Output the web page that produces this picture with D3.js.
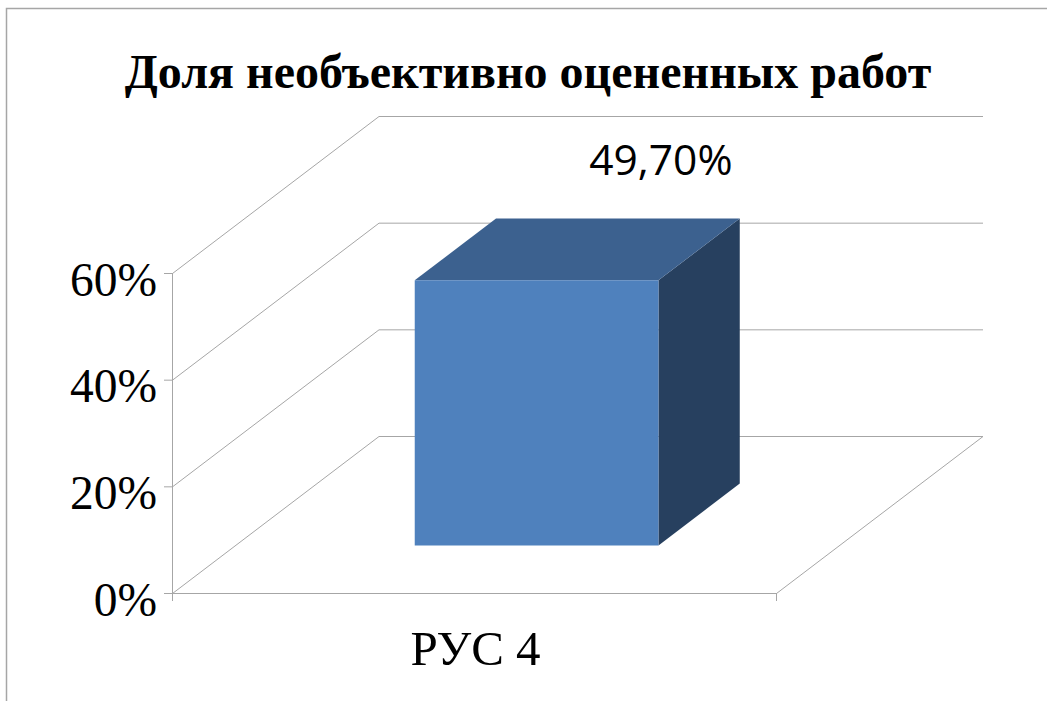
<!DOCTYPE html>
<html><head><meta charset="utf-8">
<script src="https://cdn.jsdelivr.net/npm/d3@7"></script>
<style>html,body{margin:0;padding:0;background:#fff}svg{display:block}</style>
</head><body><svg id="c" width="1047" height="701"></svg>
<script>
const title = "Доля необъективно оцененных работ";
const categories = ["РУС 4"];
const values = [0.497];
const valueLabels = ["49,70%"];
const yTicks = [0, 0.2, 0.4, 0.6];

const serif = "'Liberation Serif', serif";
const grid = "#a6a6a6";
const svg = d3.select("#c");

const x = d3.scaleBand().domain(categories).range([172, 776]).padding(0.425);
const y = d3.scaleLinear().domain([0, 0.6]).range([593, 273]);
// depth axis of the 3-D box: 0 = front of the floor, 1 = back wall
const depthOffset = [206.5, -157];
const depth = d3.scaleBand().domain(["series"]).range([0, 1]).paddingInner(0).paddingOuter(0.77);
const project = (px, v, d) => [px + d * depthOffset[0], y(v) + d * depthOffset[1]];
const line = d3.line();

// border of the picture
svg.append("path").attr("d", line([[6.5, 701], [6.5, 8.5], [1047, 8.5]]))
  .attr("fill", "none").attr("stroke", "#a6a6a6").attr("stroke-width", 1.5);

// walls and floor lines
const [x0, x1] = x.range();
const walls = svg.append("g").attr("transform", "translate(0.5,0.5)")
  .attr("fill", "none").attr("stroke", grid).attr("stroke-width", 1);
yTicks.forEach(t => {
  walls.append("path").attr("d", line([project(x0, t, 0), project(x0, t, 1), project(x1, t, 1)]));
});
walls.append("path").attr("d", line([project(x0, 0, 0), project(x1, 0, 0), project(x1, 0, 1)]));

// axes
const yAxis = d3.axisLeft(y).tickValues(yTicks).tickFormat(d3.format(".0%")).tickSize(8).tickPadding(7);
const gy = svg.append("g").attr("transform", `translate(${x0},0)`).call(yAxis);
gy.select(".domain").attr("d", line([[0.5, y(0.6)], [0.5, y(0) + 8]])).attr("stroke", grid);
gy.selectAll("line").attr("stroke", grid);
gy.selectAll("text").attr("font-family", serif).attr("font-size", 47.5).attr("fill", "#000")
  .attr("dy", "0.47em");

const gx = svg.append("g");
[x0, x1].forEach(px => gx.append("path").attr("d", line([[px + 0.5, y(0)], [px + 0.5, y(0) + 8]])).attr("stroke", grid));
gx.selectAll("text").data(categories).join("text")
  .attr("x", d => x(d) + x.bandwidth() / 2 + 1.5).attr("y", y(0) + 72)
  .attr("text-anchor", "middle").attr("font-family", serif).attr("font-size", 49).attr("fill", "#000")
  .text(d => d);

// bar
const bars = svg.append("g");
categories.forEach((c, i) => {
  const l = x(c), r = l + x.bandwidth(), v = values[i];
  const d0 = depth("series"), d1 = d0 + depth.bandwidth();
  bars.append("path").attr("fill", "#27405f")
    .attr("d", line([project(r, 0, d0), project(r, 0, d1), project(r, v, d1), project(r, v, d0)]) + "Z");
  bars.append("path").attr("fill", "#3c618f")
    .attr("d", line([project(l, v, d0), project(r, v, d0), project(r, v, d1), project(l, v, d1)]) + "Z");
  bars.append("path").attr("fill", "#4f81bd")
    .attr("d", line([project(l, 0, d0), project(r, 0, d0), project(r, v, d0), project(l, v, d0)]) + "Z");
  const a = project((l + r) / 2, v, d1);
  svg.append("text").attr("x", a[0] + 43).attr("y", a[1] - 44)
    .attr("text-anchor", "middle").attr("font-family", "'Open Sans', sans-serif")
    .attr("font-size", 42.5).attr("fill", "#000").text(valueLabels[i]);
});

svg.append("text").attr("x", 528).attr("y", 88).attr("text-anchor", "middle")
  .attr("font-family", serif).attr("font-weight", "bold").attr("font-size", 48).attr("fill", "#000")
  .text(title);
</script></body></html>
